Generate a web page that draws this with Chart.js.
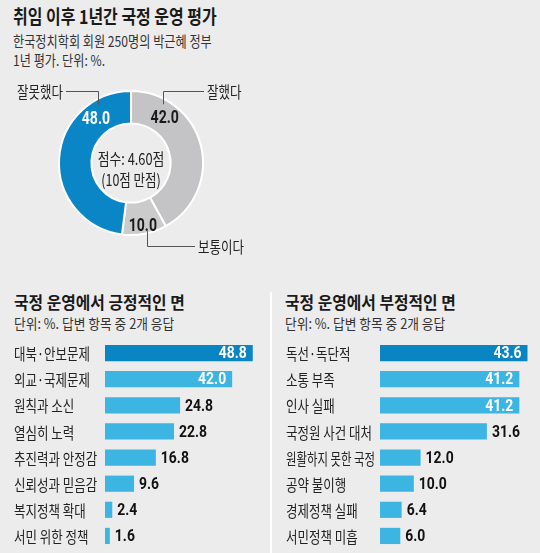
<!DOCTYPE html>
<html>
<head>
<meta charset="utf-8">
<script src="https://cdn.jsdelivr.net/npm/chart.js@4.4.1/dist/chart.umd.min.js"></script>
<style>
  body { margin: 0; width: 540px; height: 553px; background: #ececec; position: relative; overflow: hidden;
         font-family: "Noto Sans CJK KR", "Noto Sans", sans-serif; color: #222; }
  .t { position: absolute; white-space: nowrap; transform-origin: 0 0; line-height: 1; }
  canvas { position: absolute; }
  .sep { position: absolute; left: 270px; top: 292px; width: 2px; height: 261px; background: #fff; }
</style>
</head>
<body>
<div class="t" style="left:13px;top:6px;font-size:19px;font-weight:700;color:#1a1a1a;transform:scaleX(.84)">취임 이후 1년간 국정 운영 평가</div>
<div class="t" style="left:13px;top:33px;font-size:15px;color:#333;transform:scaleX(.81)">한국정치학회 회원 250명의 박근혜 정부</div>
<div class="t" style="left:13px;top:52px;font-size:15px;color:#333;transform:scaleX(.81)">1년 평가. 단위: %.</div>

<div class="t" style="left:14px;top:293px;font-size:17px;font-weight:700;color:#1a1a1a;transform:scaleX(.93)">국정 운영에서 긍정적인 면</div>
<div class="t" style="left:14px;top:316px;font-size:14px;color:#333;transform:scaleX(.91)">단위: %. 답변 항목 중 2개 응답</div>
<div class="t" style="left:285px;top:293px;font-size:17px;font-weight:700;color:#1a1a1a;transform:scaleX(.93)">국정 운영에서 부정적인 면</div>
<div class="t" style="left:285px;top:316px;font-size:14px;color:#333;transform:scaleX(.91)">단위: %. 답변 항목 중 2개 응답</div>
<div class="sep"></div>

<canvas id="donut" width="270" height="180" style="left:0;top:80px"></canvas>
<canvas id="pos" width="270" height="218" style="left:0;top:335px"></canvas>
<canvas id="neg" width="270" height="218" style="left:270px;top:335px"></canvas>

<script>
// ---------- Data ----------
const donutLabels = ["잘했다", "보통이다", "잘못했다"];
const donutValues = [42.0, 10.0, 48.0];
const donutColors = ["#c4c4c6", "#cbcbcb", "#0a86c6"];

const posLabels = ["대북·안보문제", "외교·국제문제", "원칙과 소신", "열심히 노력",
                   "추진력과 안정감", "신뢰성과 믿음감", "복지정책 확대", "서민 위한 정책"];
const posValues = [48.8, 42.0, 24.8, 22.8, 16.8, 9.6, 2.4, 1.6];

const negLabels = ["독선·독단적", "소통 부족", "인사 실패", "국정원 사건 대처",
                   "원활하지 못한 국정", "공약 불이행", "경제정책 실패", "서민정책 미흡"];
const negValues = [43.6, 41.2, 41.2, 31.6, 12.0, 10.0, 6.4, 6.0];

const DARK_BLUE = "#0a85c4";
const LIGHT_BLUE = "#3db5e2";
const KFONT = '"Noto Sans CJK KR", "Noto Sans", sans-serif';
const NFONT = 'Roboto, "Liberation Sans", sans-serif';

// ---------- Helpers ----------
function drawScaled(ctx, text, x, y, font, color, sx, align, maxW) {
  ctx.save();
  ctx.translate(x, y);
  ctx.scale(sx, 1);
  ctx.font = font;
  ctx.fillStyle = color;
  ctx.textAlign = align;
  ctx.textBaseline = "middle";
  if (maxW) ctx.fillText(text, 0, 0, maxW / sx);
  else ctx.fillText(text, 0, 0);
  ctx.restore();
}

function ringPoint(arc, frac, r) {
  const a = arc.startAngle + frac * (arc.endAngle - arc.startAngle);
  return { x: arc.x + Math.cos(a) * r, y: arc.y + Math.sin(a) * r };
}

// ---------- Donut ----------
const donutText = {
  id: "donutText",
  afterDatasetsDraw(chart) {
    const ctx = chart.ctx;
    const arcs = chart.getDatasetMeta(0).data;
    const cx = arcs[0].x, cy = arcs[0].y;

    // value labels
    const valuePos = [
      { frac: 0.24, r: 57, color: "#1a1a1a" },
      { frac: 0.5, r: 63, color: "#1a1a1a" },
      { frac: 0.78, r: 57, color: "#ffffff" }
    ];
    valuePos.forEach((p, i) => {
      const pt = ringPoint(arcs[i], p.frac, p.r);
      drawScaled(ctx, donutValues[i].toFixed(1), pt.x, pt.y + 1, "700 19px " + NFONT, p.color, 0.74, "center");
    });

    // leader lines + names
    const leaders = [
      { frac: 0.19, r: 67, elbow: -72, end: 73, side: 1 },
      { frac: 0.44, r: 70, elbow: 83, end: 64, side: 1 },
      { frac: 0.83, r: 67, elbow: -72, end: -65, side: -1 }
    ];
    ctx.save();
    ctx.strokeStyle = "#555";
    ctx.lineWidth = 1;
    leaders.forEach((l, i) => {
      const pt = ringPoint(arcs[i], l.frac, l.r);
      const x = Math.round(pt.x) + 0.5;
      const ey = Math.round(cy + l.elbow) + 0.5;
      const ex = cx + l.end;
      ctx.beginPath();
      ctx.moveTo(x, pt.y);
      ctx.lineTo(x, ey);
      ctx.lineTo(ex, ey);
      ctx.stroke();
      drawScaled(ctx, donutLabels[i], ex + 3 * l.side, ey, "400 16px " + KFONT, "#222", 0.78,
                 l.side > 0 ? "left" : "right");
    });
    ctx.restore();

    // centre text
    drawScaled(ctx, "점수: 4.60점", cx, cy - 4, "400 16px " + KFONT, "#222", 0.8, "center");
    drawScaled(ctx, "(10점 만점)", cx, cy + 17, "400 16px " + KFONT, "#222", 0.78, "center");
  }
};

new Chart(document.getElementById("donut"), {
  type: "doughnut",
  data: {
    labels: donutLabels,
    datasets: [{
      data: donutValues,
      backgroundColor: donutColors,
      borderColor: "#ffffff",
      borderWidth: 2
    }]
  },
  options: {
    responsive: false,
    animation: false,
    cutout: "55%",
    layout: { padding: { left: 58, top: 10, right: 66, bottom: 24 } },
    plugins: { legend: { display: false }, tooltip: { enabled: false } }
  },
  plugins: [donutText]
});

// ---------- Bars ----------
const barText = {
  id: "barText",
  afterDatasetsDraw(chart, args, opts) {
    const ctx = chart.ctx;
    const meta = chart.getDatasetMeta(0);
    const values = chart.data.datasets[0].data;
    meta.data.forEach((bar, i) => {
      drawScaled(ctx, chart.data.labels[i], opts.labelX, bar.y + 1, "400 16px " + KFONT, "#222", 0.78, "left",
                 opts.labelMax);
      const v = values[i];
      if (v > 35) {
        drawScaled(ctx, v.toFixed(1), bar.x - 6, bar.y + 1, "700 17px " + NFONT, "#fff", 0.82, "right");
      } else {
        drawScaled(ctx, v.toFixed(1), bar.x + 5, bar.y + 1, "700 17px " + NFONT, "#111", 0.82, "left");
      }
    });
  }
};

function makeBars(id, labels, values, max, padLeft, labelX, labelMax) {
  new Chart(document.getElementById(id), {
    type: "bar",
    data: {
      labels: labels,
      datasets: [{
        data: values,
        backgroundColor: values.map((v, i) => i === 0 ? DARK_BLUE : LIGHT_BLUE),
        categoryPercentage: 1,
        barPercentage: 0.62
      }]
    },
    options: {
      indexAxis: "y",
      responsive: false,
      animation: false,
      layout: { padding: { left: padLeft, right: 0, top: 5, bottom: 4 } },
      scales: {
        x: { display: false, min: 0, max: max },
        y: { display: false }
      },
      plugins: {
        legend: { display: false },
        tooltip: { enabled: false },
        barText: { labelX: labelX, labelMax: labelMax }
      }
    },
    plugins: [barText]
  });
}

makeBars("pos", posLabels, posValues, 54.5, 105, 14, 86);
makeBars("neg", negLabels, negValues, 47.3, 110, 16, 89);
</script>
</body>
</html>
